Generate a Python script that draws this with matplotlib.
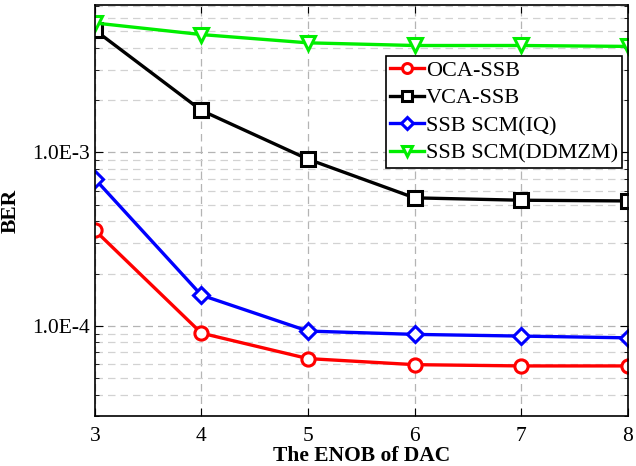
import math
import matplotlib
matplotlib.use("Agg")
import matplotlib.pyplot as plt
from matplotlib.ticker import LogLocator, FuncFormatter, NullFormatter

enob = [3, 4, 5, 6, 7, 8]
oca_ssb = [3.56e-4, 9.05e-5, 6.45e-5, 5.95e-5, 5.85e-5, 5.85e-5]
vca_ssb = [5.1e-3, 1.75e-3, 9.15e-4, 5.47e-4, 5.3e-4, 5.25e-4]
scm_iq = [7.05e-4, 1.5e-4, 9.3e-5, 8.9e-5, 8.7e-5, 8.5e-5]
scm_ddmzm = [5.6e-3, 4.8e-3, 4.3e-3, 4.15e-3, 4.15e-3, 4.1e-3]

plt.rcParams["font.family"] = ["Liberation Serif", "DejaVu Serif"]

fig = plt.figure(figsize=(6.36, 4.66), dpi=100)
ax = fig.add_axes([0.149, 0.107, 0.838, 0.882])

style = dict(lw=2.4, ms=9.5, mew=2.2, mfc="white")
ax.plot(enob, oca_ssb, "-o", color="red", label="OCA-SSB", **style)
ax.plot(enob, vca_ssb, "-s", color="black", label="VCA-SSB", **style)
ax.plot(enob, scm_iq, "-D", color="blue", label="SSB SCM(IQ)", **dict(style, ms=8.5))
ax.plot(enob, scm_ddmzm, "-v", color="#00ee00", label="SSB SCM(DDMZM)", **style)

ax.set_yscale("log")
ax.set_xlim(3, 8)
ax.set_ylim(3e-5, 7.1e-3)
ax.set_xticks(enob)
ax.yaxis.set_major_locator(LogLocator(base=10, subs=[1.0]))
ax.yaxis.set_minor_locator(LogLocator(base=10, subs=[2, 3, 4, 5, 6, 7, 8, 9]))
ax.yaxis.set_major_formatter(FuncFormatter(lambda v, p: "1.0E%d" % round(math.log10(v))))
ax.yaxis.set_minor_formatter(NullFormatter())

ax.grid(True, which="major", color="#b4b4b4", ls=(0, (6, 4)), lw=0.9)
ax.grid(True, which="minor", axis="y", color="#d2d2d2", ls=(0, (6, 4)), lw=0.9)
ax.set_axisbelow(True)

ax.tick_params(which="both", direction="in", top=True, right=True, labelsize=15.5)
ax.tick_params(axis="x", pad=8)
ax.tick_params(which="major", length=6)
ax.tick_params(which="minor", length=3)
for s in ax.spines.values():
    s.set_linewidth(1.2)

ax.set_xlabel("The ENOB of DAC", fontsize=15.5, fontweight="bold", labelpad=0)
ax.set_ylabel("BER", fontsize=15.5, fontweight="bold", labelpad=8)

leg = ax.legend(loc="upper right", bbox_to_anchor=(0.99, 0.877), fontsize=16,
                frameon=True, fancybox=False, edgecolor="black", framealpha=1,
                handlelength=1.5, handletextpad=0.1, labelspacing=0.32,
                borderpad=0.2, borderaxespad=0, markerscale=0.75)
leg.get_frame().set_linewidth(1.2)

fig.savefig("out.png", dpi=100)
